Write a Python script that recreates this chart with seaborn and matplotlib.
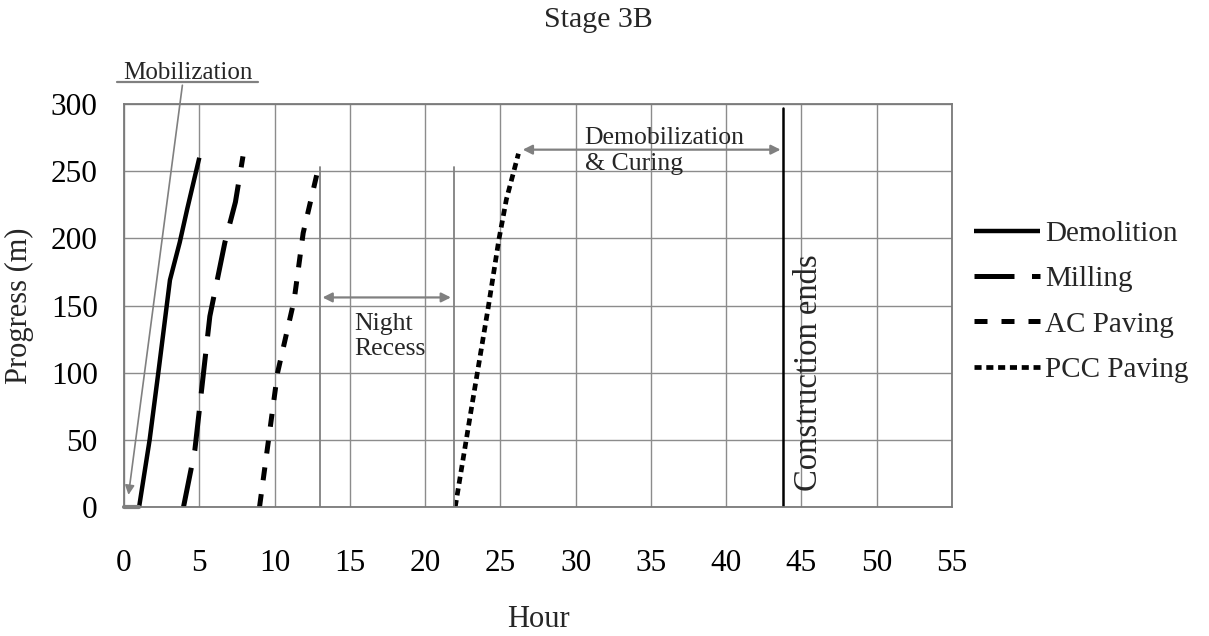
import matplotlib
matplotlib.use("Agg")
import matplotlib.pyplot as plt
import seaborn as sns
import pandas as pd

# Progress curves (hour, metres)
demo_hr = [1.0, 1.7, 2.3, 3.05, 3.7, 4.2, 5.0]
demo_m = [0, 50, 102, 169, 197, 222, 260]
mill_hr = [3.95, 4.7, 5.45, 5.7, 6.7, 7.4, 7.9]
mill_m = [0, 42, 117, 142, 197, 227, 261]
ac_hr = [9.0, 9.6, 10.2, 11.3, 11.9, 12.9]
ac_m = [0, 50, 100, 154, 204, 252]
pcc_hr = [22.0, 23.1, 24.2, 24.9, 25.4, 26.2]
pcc_m = [0, 75, 149, 199, 229, 263]

series_names = ["Demolition", "Milling", "AC Paving", "PCC Paving"]

# markers on the time line
night_start = 13.0
night_end = 21.9
night_top = 253
construction_end = 43.8
construction_top = 297
demob_start = 26.3
demob_y = 266
night_arrow_y = 156

x_ticks = list(range(0, 60, 5))
y_ticks = list(range(0, 350, 50))

sns.set_theme(style="whitegrid")
plt.rcParams["font.family"] = ["Liberation Serif", "DejaVu Serif"]

fig = plt.figure(figsize=(12.09, 6.36), dpi=100)
ax = fig.add_axes([0.1026, 0.2028, 0.6848, 0.6337])

styles = [
    dict(lw=3.2, dashes=None),
    dict(lw=3.6, dashes=(8, 3.5)),
    dict(lw=3.6, dashes=(2.6, 2.8)),
    dict(lw=3.4, dashes=(1.5, 1.0)),
]
data = [(demo_hr, demo_m), (mill_hr, mill_m), (ac_hr, ac_m), (pcc_hr, pcc_m)]

handles = []
for name, (hx, hy), st in zip(series_names, data, styles):
    df = pd.DataFrame({"Hour": hx, "Progress": hy})
    sns.lineplot(data=df, x="Hour", y="Progress", sort=False, estimator=None,
                 color="black", lw=st["lw"], ax=ax, label=name, legend=False)
    line = ax.lines[-1]
    line.set_solid_capstyle("butt")
    line.set_dash_capstyle("butt")
    if st["dashes"] is not None:
        line.set_dashes(st["dashes"])
    handles.append(line)

grey = "#808080"
# mobilization bar at the start
ax.plot([0, 1], [0, 0], color=grey, lw=3, clip_on=False, zorder=4)

# night recess boundaries
ax.plot([night_start, night_start], [0, night_top], color=grey, lw=1.3)
ax.plot([night_end, night_end], [0, night_top], color=grey, lw=1.3)
ax.annotate("", xy=(night_start, night_arrow_y), xytext=(night_end, night_arrow_y),
            arrowprops=dict(arrowstyle="<|-|>", color=grey, lw=1.6, mutation_scale=14))
ax.text(15.3, 127, "Night\nRecess", fontsize=18.5, ha="left", va="center",
        linespacing=1.15)

# demobilization & curing
ax.annotate("", xy=(demob_start, demob_y), xytext=(construction_end, demob_y),
            arrowprops=dict(arrowstyle="<|-|>", color=grey, lw=1.6, mutation_scale=14))
ax.text(30.6, demob_y - 1, "Demobilization\n& Curing", fontsize=18.5, ha="left",
        va="center", linespacing=1.2)

# construction ends
ax.plot([construction_end, construction_end], [0, construction_top], color="black", lw=1.8)
ax.text(45.5, 12, "Construction ends", rotation=90, fontsize=23.5,
        ha="center", va="bottom")

# mobilization label with leader
ax.text(4.25, 323, "Mobilization", fontsize=18, ha="center", va="center",
        clip_on=False)
ax.plot([-0.47, 8.9], [316, 316], color=grey, lw=1.6, clip_on=False)
ax.annotate("", xy=(0.27, 7), xytext=(3.9, 316),
            arrowprops=dict(arrowstyle="-|>", color=grey, lw=1.2, mutation_scale=14),
            annotation_clip=False)

ax.set_xlim(0, 55)
ax.set_ylim(0, 300)
ax.set_xticks(x_ticks)
ax.set_yticks(y_ticks)
ax.grid(True, color="#8c8c8c", lw=1.0)
for sp in ax.spines.values():
    sp.set_visible(True)
    sp.set_color("#7a7a7a")
    sp.set_linewidth(1.3)
ax.tick_params(axis="x", length=0, pad=30, labelsize=22.5, colors="black")
ax.tick_params(axis="y", length=0, pad=19, labelsize=22.5, colors="black")
ax.set_xlabel("Hour", fontsize=22, labelpad=20)
ax.set_ylabel("Progress (m)", fontsize=22, labelpad=12)

fig.text(0.495, 0.968, "Stage 3B", fontsize=21.5, ha="center", va="center")

ax.legend(handles=handles, labels=series_names, loc="upper left",
          bbox_to_anchor=(1.013, 0.74), frameon=False, fontsize=21,
          handlelength=2.25, handletextpad=0.17, labelspacing=0.65,
          borderaxespad=0)

fig.savefig("out.png", dpi=100, facecolor="white")
